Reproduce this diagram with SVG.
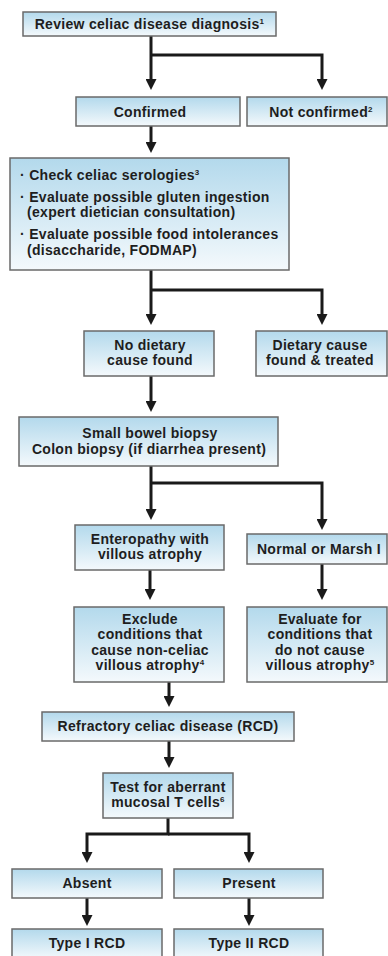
<svg xmlns="http://www.w3.org/2000/svg" width="388" height="956" viewBox="0 0 388 956">
<style>
.box{fill:url(#g);stroke:#6a6a6a;stroke-width:1.5}
text{font-family:"Liberation Sans",Arial,sans-serif;font-weight:bold;font-size:14px;letter-spacing:0.3px;fill:#1e1e1e}
.c{text-anchor:middle}
.s{font-size:8px}
.cn{fill:none;stroke:#1a1a1a;stroke-width:3;marker-end:url(#ah)}
</style>
<defs>
<linearGradient id="g" x1="0" y1="0" x2="0" y2="1">
<stop offset="0" stop-color="#b3d9ec"/>
<stop offset="1" stop-color="#f4f9fc"/>
</linearGradient>
<marker id="ah" viewBox="0 0 11 11" refX="1" refY="5.5" markerWidth="11" markerHeight="11" markerUnits="userSpaceOnUse" orient="auto">
<path d="M0,0 L11,5.5 L0,11 z" fill="#1a1a1a"/>
</marker>
</defs>
<rect width="388" height="956" fill="#ffffff"/>
<g id="connectors">
<path class="cn" d="M151,36 V80"/>
<path class="cn" d="M151,55 H322 V80"/>
<path class="cn" d="M151,126 V143"/>
<path class="cn" d="M151,270 V315"/>
<path class="cn" d="M151,290 H322 V315"/>
<path class="cn" d="M151,376 V402"/>
<path class="cn" d="M151,466 V510"/>
<path class="cn" d="M151,483 H322 V520"/>
<path class="cn" d="M150,570 V590"/>
<path class="cn" d="M322,564 V590"/>
<path class="cn" d="M169,682 V697"/>
<path class="cn" d="M169,741 V758"/>
<path class="cn" d="M168,818 V834 H87 V853"/>
<path class="cn" d="M168,834 H249 V853"/>
<path class="cn" d="M87,898 V916"/>
<path class="cn" d="M249,898 V916"/>
</g>
<g id="review">
<rect class="box" x="23" y="12" width="253" height="24"/>
<text class="c" x="149.5" y="28.5">Review celiac disease diagnosis<tspan class="s" dy="-5">1</tspan></text>
</g>
<g id="confirmed">
<rect class="box" x="76" y="97" width="164" height="29"/>
<text class="c" x="150" y="117">Confirmed</text>
</g>
<g id="notconfirmed">
<rect class="box" x="247" y="97" width="140" height="29"/>
<text class="c" x="321" y="117">Not confirmed<tspan class="s" dy="-5">2</tspan></text>
</g>
<g id="checks">
<rect class="box" x="10" y="158" width="279" height="112"/>
<text x="20" y="180">· Check celiac serologies<tspan class="s" dy="-5">3</tspan></text>
<text x="20" y="202">· Evaluate possible gluten ingestion</text>
<text x="27" y="217">(expert dietician consultation)</text>
<text x="20" y="239">· Evaluate possible food intolerances</text>
<text x="27" y="255">(disaccharide, FODMAP)</text>
</g>
<g id="nodietary">
<rect class="box" x="84" y="331" width="130" height="45"/>
<text class="c" x="150" y="350">No dietary</text>
<text class="c" x="150" y="365">cause found</text>
</g>
<g id="dietary">
<rect class="box" x="256" y="331" width="131" height="45"/>
<text class="c" x="320" y="350">Dietary cause</text>
<text class="c" x="320" y="365">found &amp; treated</text>
</g>
<g id="biopsy">
<rect class="box" x="19" y="417" width="259" height="49"/>
<text class="c" x="150" y="438">Small bowel biopsy</text>
<text class="c" x="149" y="454">Colon biopsy (if diarrhea present)</text>
</g>
<g id="enteropathy">
<rect class="box" x="75" y="525" width="149" height="45"/>
<text class="c" x="150" y="544">Enteropathy with</text>
<text class="c" x="150" y="559">villous atrophy</text>
</g>
<g id="normal">
<rect class="box" x="247" y="534" width="140" height="30"/>
<text class="c" x="319" y="553.5">Normal or Marsh I</text>
</g>
<g id="exclude">
<rect class="box" x="74" y="607" width="150" height="75"/>
<text class="c" x="150" y="624">Exclude</text>
<text class="c" x="150" y="639">conditions that</text>
<text class="c" x="150" y="655">cause non-celiac</text>
<text class="c" x="150" y="670">villous atrophy<tspan class="s" dy="-5">4</tspan></text>
</g>
<g id="evaluate">
<rect class="box" x="247" y="607" width="140" height="75"/>
<text class="c" x="320" y="624">Evaluate for</text>
<text class="c" x="320" y="639">conditions that</text>
<text class="c" x="320" y="655">do not cause</text>
<text class="c" x="320" y="670">villous atrophy<tspan class="s" dy="-5">5</tspan></text>
</g>
<g id="refractory">
<rect class="box" x="42" y="712" width="252" height="29"/>
<text class="c" x="168" y="731">Refractory celiac disease (RCD)</text>
</g>
<g id="test">
<rect class="box" x="103" y="773" width="130" height="45"/>
<text class="c" x="168" y="792">Test for aberrant</text>
<text class="c" x="168" y="807">mucosal T cells<tspan class="s" dy="-5">6</tspan></text>
</g>
<g id="absent">
<rect class="box" x="12" y="869" width="150" height="29"/>
<text class="c" x="87" y="888">Absent</text>
</g>
<g id="present">
<rect class="box" x="174" y="869" width="149" height="29"/>
<text class="c" x="249" y="888">Present</text>
</g>
<g id="type1">
<rect class="box" x="12" y="929" width="150" height="30"/>
<text class="c" x="87" y="948">Type I RCD</text>
</g>
<g id="type2">
<rect class="box" x="174" y="929" width="149" height="30"/>
<text class="c" x="249" y="948">Type II RCD</text>
</g>
</svg>
